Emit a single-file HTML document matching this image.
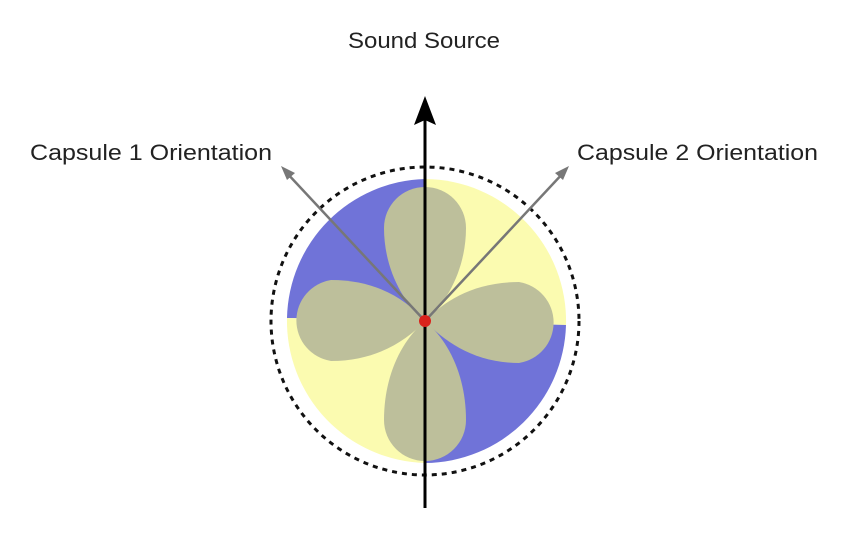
<!DOCTYPE html>
<html><head><style>
html,body{margin:0;padding:0;background:#fff;}
svg{display:block;}
</style></head><body>
<svg width="850" height="534" viewBox="0 0 850 534" xmlns="http://www.w3.org/2000/svg" font-family="Liberation Sans, sans-serif">
<rect width="850" height="534" fill="#fff"/>
<path d="M425,321 L425,179 A142,142 0 0 0 287,318 Z" fill="#7073d8"/>
<path d="M425,321 L425,179 A142,142 0 0 1 566,325 Z" fill="#fbfbb0"/>
<path d="M425,321 L287,318 A142,142 0 0 0 425,463 Z" fill="#fbfbb0"/>
<path d="M425,321 L566,325 A142,142 0 0 1 425,463 Z" fill="#7073d8"/>
<g fill="#bdbf9b">
<path d="M425,321 C400,300 384,265 384,228 A41,41 0 0 1 466,228 C466,265 450,300 425,321 Z"/>
<path d="M425,321 C445,300 475,282 519,282 A41,41 0 0 1 519,363 C475,363 445,342 425,321 Z"/>
<path d="M425,321 C405,298 375,280 331,280 A41,41 0 0 0 331,361 C375,361 405,342 425,321 Z"/>
<path d="M425,321 C400,342 384,378 384,420 A41,41 0 0 0 466,420 C466,378 450,342 425,321 Z"/>
</g>
<circle cx="425" cy="321" r="154" fill="none" stroke="#111" stroke-width="3" stroke-dasharray="5,5"/>
<g stroke="#777" stroke-width="2.5" fill="none">
<line x1="425" y1="321" x2="285" y2="171"/>
<line x1="425" y1="321" x2="565" y2="171"/>
</g>
<polygon points="281,166 295,173 287,180" fill="#777"/>
<polygon points="569,166 555,173 563,180" fill="#777"/>
<line x1="425" y1="508" x2="425" y2="115" stroke="#000" stroke-width="3"/>
<polygon points="425,96 414,125 425,120 436,125" fill="#000"/>
<circle cx="425" cy="321" r="6" fill="#d9231c"/>
<g font-size="22" fill="#222">
<text x="348" y="48" textLength="152" lengthAdjust="spacingAndGlyphs">Sound Source</text>
<text x="30" y="160" textLength="242" lengthAdjust="spacingAndGlyphs">Capsule 1 Orientation</text>
<text x="577" y="160" textLength="241" lengthAdjust="spacingAndGlyphs">Capsule 2 Orientation</text>
</g>
</svg>
</body></html>
